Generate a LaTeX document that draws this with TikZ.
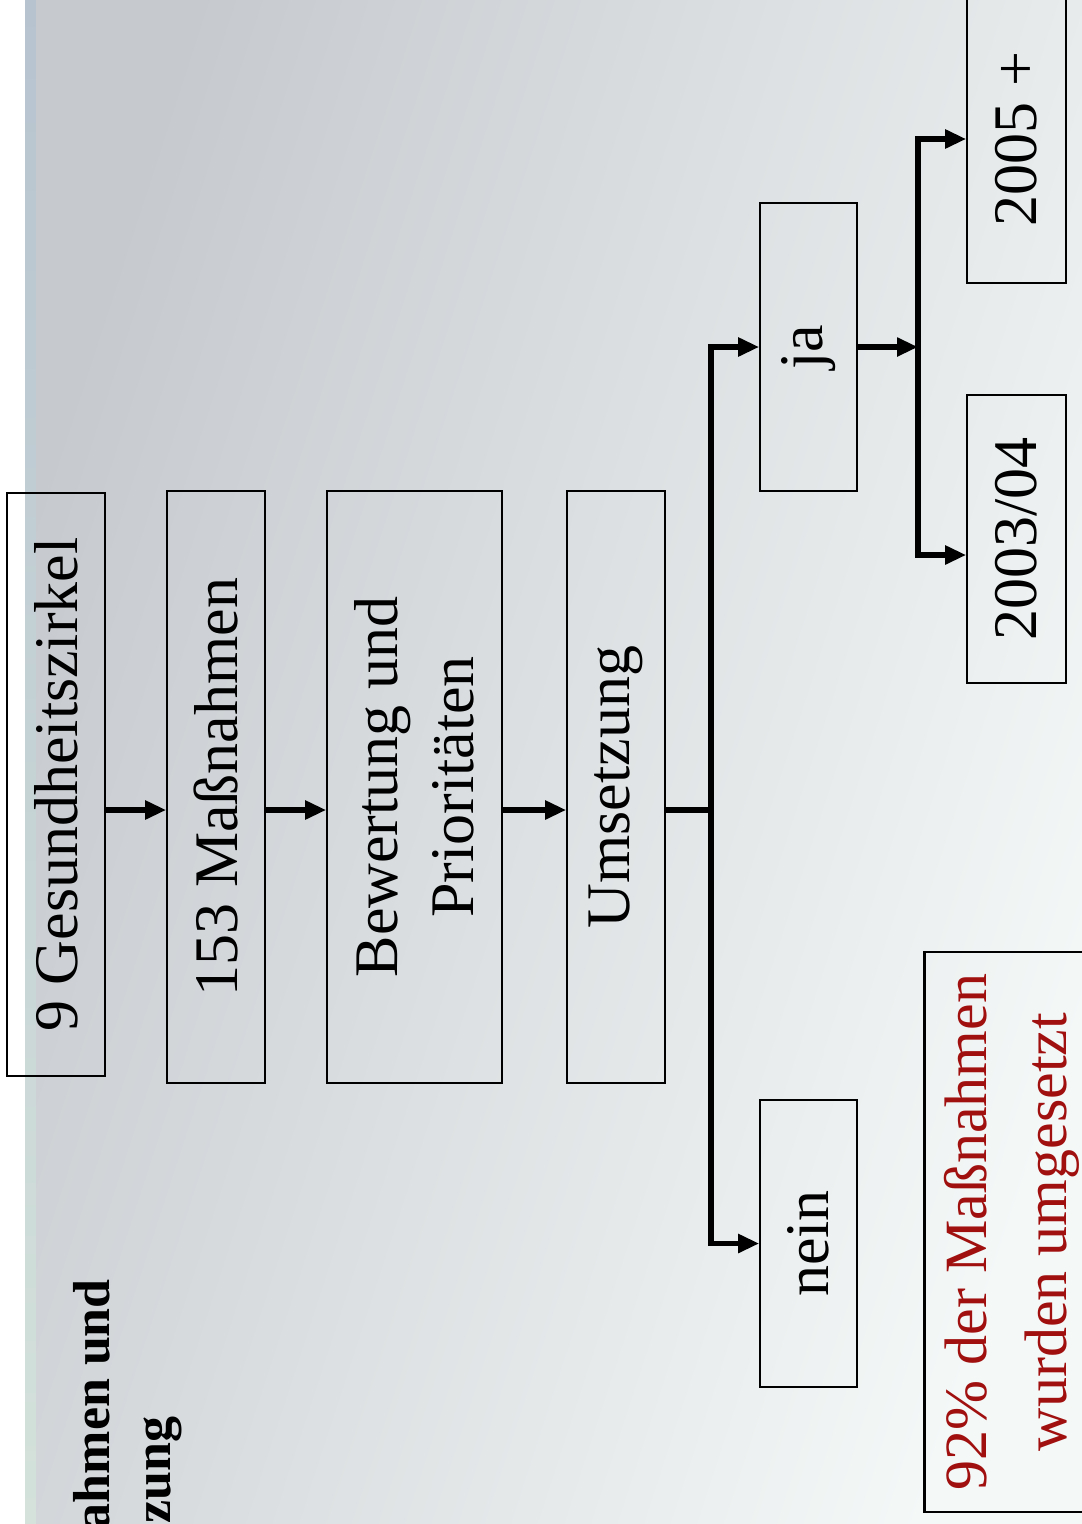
\documentclass[tikz,border=0pt]{standalone}
\usepackage{fontspec}
\setmainfont{Liberation Serif}
\usetikzlibrary{arrows.meta,positioning}
\definecolor{slidetop}{HTML}{C6CACF}
\definecolor{slidebottom}{HTML}{F4F8F7}
\definecolor{edgetop}{HTML}{B7C3CF}
\definecolor{edgebottom}{HTML}{D4E2DB}
\definecolor{quotered}{HTML}{A0100F}

\begin{document}
\begin{tikzpicture}[
        x=1pt, y=-1pt,
        >={Triangle[length=21pt,width=18pt]}, % Pfeilspitze
        stage/.style={draw, line width=1.6pt, rotate=90, inner sep=0pt, align=center,
            font=\fontsize{62}{76}\selectfont},
        heading/.style={rotate=90, anchor=base east, inner sep=0pt,
            font=\fontsize{52}{60}\selectfont\bfseries},
        flow/.style={->, line width=5.5pt}
    ]
        \useasboundingbox (0,0) rectangle (1082,1524);
        \clip (0,0) rectangle (1082,1524);

        % Hintergrund
        \fill[white] (0,0) rectangle (1082,1524);
        \shade[top color=edgetop, bottom color=edgebottom] (25,0) rectangle (36,1524);
        \shade[top color=slidetop, bottom color=slidebottom, shading angle=72] (36,0) rectangle (1082,1524);

        % Titel
        \node[heading] (title1) at (109,1279) {ahmen und};
        \node[heading] (title2) at (170,1416) {zung};

        % Knoten definieren
        \node[stage, minimum width=583pt, minimum height=98pt] (zirkel) at (56,784.5) {9 Gesundheitszirkel};
        \node[stage, minimum width=592pt, minimum height=98pt] (massnahmen) at (216,787) {153 Maßnahmen};
        \node[stage, minimum width=592pt, minimum height=175pt] (bewertung) at (414.5,787) {Bewertung und\\Prioritäten};
        \node[stage, minimum width=592pt, minimum height=98pt] (umsetzung) at (616,787) {Umsetzung};
        \node[stage, minimum width=288pt, minimum height=97pt] (ja) at (808.5,347) {ja};
        \node[stage, minimum width=287pt, minimum height=97pt] (nein) at (808.5,1243.5) {nein};
        \node[stage, minimum width=288pt, minimum height=99pt] (jahr05) at (1016.5,139) {2005 +};
        \node[stage, minimum width=288pt, minimum height=99pt] (jahr03) at (1016.5,539) {2003/04};
        \node[stage, line width=2.5pt, text=quotered, minimum width=560pt, minimum height=175pt,
            font=\fontsize{60}{80}\selectfont] (quote) at (1012,1232) {92\% der Maßnahmen\\wurden umgesetzt};

        % Knoten verbinden
        \coordinate (row) at (0,810);
        \coordinate (split) at (711,810);
        \coordinate (split2) at (918,347);
        \draw[flow] (zirkel.south |- row) -- (massnahmen.north |- row);
        \draw[flow] (massnahmen.south |- row) -- (bewertung.north |- row);
        \draw[flow] (bewertung.south |- row) -- (umsetzung.north |- row);
        \draw[line width=5.5pt] (umsetzung.south |- row) -- (split);
        \draw[flow] (split) |- (ja.north);
        \draw[flow] (split) |- (nein.north);
        \draw[flow] (ja.south) -- (split2);
        \draw[flow] (split2) |- (jahr05.north);
        \draw[flow] (split2) |- ([yshift=-16pt]jahr03.north);

    \end{tikzpicture}
\end{document}
